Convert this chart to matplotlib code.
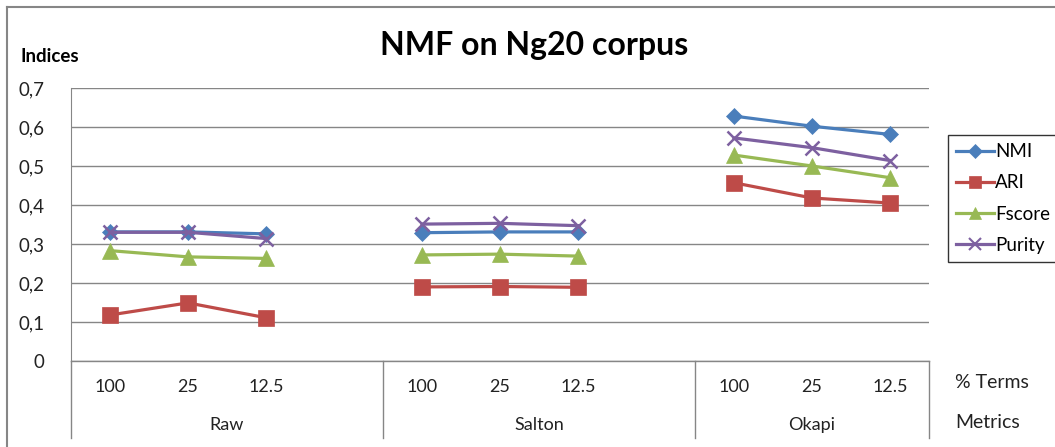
import matplotlib
matplotlib.use("Agg")
import matplotlib.pyplot as plt
from matplotlib.lines import Line2D
import numpy as np

plt.rcParams['font.family'] = ['Lato', 'DejaVu Sans']

groups = ['Raw', 'Salton', 'Okapi']
terms = ['100', '25', '12.5']
nmi    = [0.331, 0.331, 0.326, 0.329, 0.331, 0.331, 0.628, 0.602, 0.581]
ari    = [0.118, 0.149, 0.111, 0.190, 0.191, 0.189, 0.457, 0.418, 0.405]
fscore = [0.283, 0.267, 0.263, 0.272, 0.274, 0.269, 0.528, 0.500, 0.470]
purity = [0.330, 0.330, 0.314, 0.351, 0.353, 0.347, 0.572, 0.547, 0.514]

series = [('NMI', nmi, '#4A7EBB', 'D', 8.5),
          ('ARI', ari, '#BE4B48', 's', 11),
          ('Fscore', fscore, '#98B954', '^', 11),
          ('Purity', purity, '#7D60A0', 'x', 10)]

W, H = 1055, 447
fig = plt.figure(figsize=(W / 100, H / 100), dpi=100)
x0, x1, ytop, ybot = 71, 929, 88, 361
ax = fig.add_axes([x0 / W, 1 - ybot / H, (x1 - x0) / W, (ybot - ytop) / H])

ng, nt = len(groups), len(terms)
slot = nt + 1
nslots = ng * slot - 1
ax.set_xlim(-0.5, nslots - 0.5)
ax.set_ylim(0, 0.7)

for name, vals, col, mk, ms in series:
    for g in range(ng):
        xs = [g * slot + t for t in range(nt)]
        ys = vals[g * nt:(g + 1) * nt]
        ax.plot(xs, ys, color=col, lw=2.3, marker=mk, ms=ms,
                mew=1.8 if mk == 'x' else 0.5, mec=col, mfc=col, zorder=3)

yt = np.round(np.arange(0, 0.71, 0.1), 1)
ax.set_yticks(yt)
ax.set_yticklabels([('%.1f' % v).replace('.', ',') if v > 0 else '0' for v in yt],
                   fontsize=13.5, color='#222222')
ax.tick_params(axis='y', length=0, pad=19)
ax.set_xticks([])
ax.grid(axis='y', color='#868686', lw=1.0)
ax.set_axisbelow(True)
for s in ['top', 'right', 'bottom']:
    ax.spines[s].set_visible(False)
ax.spines['left'].set_color('#868686')

# category labels below axis
for g in range(ng):
    for t in range(nt):
        fig.text((x0 + (g * slot + t + 0.5) * (x1 - x0) / nslots) / W, 1 - 387 / H,
                 terms[t], ha='center', va='center', fontsize=13, color='#222222')
    gx0 = g * slot - 0.5
    gx1 = min(gx0 + slot, nslots - 0.5)
    fig.text((x0 + ((gx0 + gx1) / 2 + 0.5) * (x1 - x0) / nslots) / W, 1 - 425 / H,
             groups[g], ha='center', va='center', fontsize=13, color='#222222')

# separators below axis
seps = [0] + [g * slot for g in range(1, ng)] + [nslots]
for s in seps:
    xp = (x0 + s * (x1 - x0) / nslots) / W
    fig.add_artist(Line2D([xp, xp], [1 - 438 / H, 1 - ybot / H],
                          color='#868686', lw=1.0))
fig.add_artist(Line2D([x0 / W, x1 / W], [1 - ybot / H, 1 - ybot / H],
                      color='#868686', lw=1.0))

# outer border
fig.add_artist(Line2D([7 / W, 7 / W], [0, 1 - 7 / H], color='#868686', lw=1.5))
fig.add_artist(Line2D([7 / W, 1], [1 - 7 / H, 1 - 7 / H], color='#868686', lw=1.5))

fig.text(534 / W, 1 - 46 / H, 'NMF on Ng20 corpus', ha='center', va='center',
         fontsize=23, fontweight='bold', color='black')
fig.text(20 / W, 1 - 57 / H, 'Indices', ha='left', va='center',
         fontsize=13.5, fontweight='bold', color='black')
fig.text(955 / W, 1 - 383 / H, '% Terms', ha='left', va='center',
         fontsize=14, color='#222222')
fig.text(955 / W, 1 - 423 / H, 'Metrics', ha='left', va='center',
         fontsize=14, color='#222222')

handles = [Line2D([], [], color=col, lw=2.3, marker=mk, ms=ms * 0.8,
                  mew=1.5 if mk == 'x' else 0.5, mec=col, mfc=col)
           for name, vals, col, mk, ms in series]
leg = fig.legend(handles, [s[0] for s in series], loc='upper left',
                 bbox_to_anchor=(948 / W, 1 - 135 / H), frameon=True,
                 fancybox=False, edgecolor='black', fontsize=13.5,
                 handlelength=2.0, handletextpad=0.05, borderpad=0.45,
                 labelspacing=0.75, borderaxespad=0)
leg.get_frame().set_linewidth(1.0)

fig.savefig('out.png', dpi=100)
